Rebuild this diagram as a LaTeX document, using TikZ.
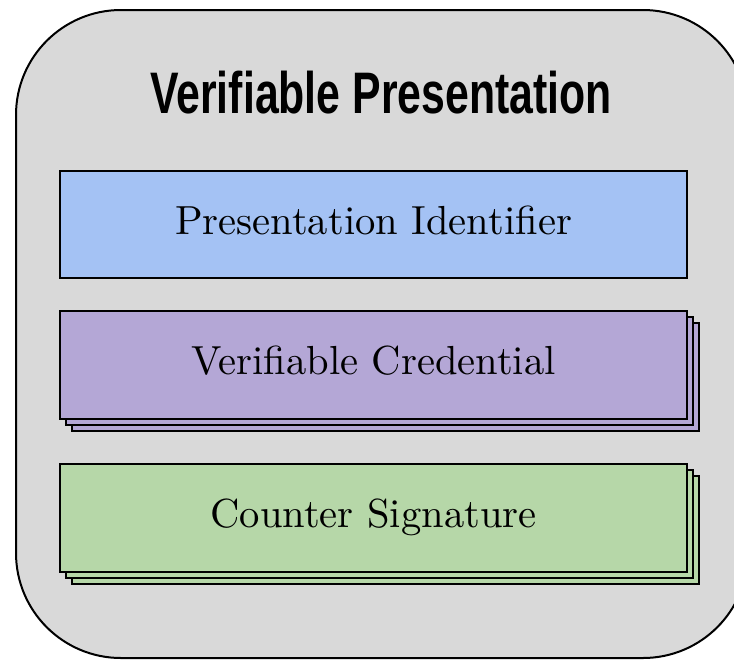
\documentclass[tikz,border=0pt]{standalone}
\usepackage{fontspec}
\usepackage{xcolor}
\usepackage{tikz}
\usetikzlibrary{shadows}
\newfontfamily\titlefont[FakeStretch=0.73]{Liberation Sans}
\newfontfamily\bodyfont{lmroman10-regular.otf}
\definecolor{panelgray}{HTML}{D9D9D9}
\definecolor{idblue}{HTML}{A4C2F4}
\definecolor{credpurple}{HTML}{B4A7D6}
\definecolor{siggreen}{HTML}{B6D7A8}

\begin{document}
\begin{tikzpicture}[
    x=0.5pt, y=-0.5pt,
    panel/.style={draw=black, fill=panelgray, line width=1pt, rounded corners=52.5pt},
    card/.style={draw=black, fill=#1, line width=1pt,
                 minimum width=313.5pt, minimum height=53.75pt, inner sep=0pt,
                 text height=14pt, text depth=4.5pt,
                 font=\bodyfont\fontsize{20.3}{24}\selectfont},
    stack/.style={
      general shadow={shadow scale=1, shadow xshift=6pt, shadow yshift=-6pt,
                      draw=black, fill=#1, line width=1pt},
      general shadow={shadow scale=1, shadow xshift=3pt, shadow yshift=-3pt,
                      draw=black, fill=#1, line width=1pt}}
  ]
    \useasboundingbox (0,0) rectangle (734,660);
    \clip (0,0) rectangle (734,660);
    \draw[panel] (16,10) rectangle (748,658);
    \node[anchor=base, font=\titlefont\bfseries\fontsize{29.3}{34}\selectfont]
      (title) at (381,113) {Verifiable Presentation};

    \node[card=idblue] (ident) at (373.5,224.5) {Presentation Identifier};
    \node[card=credpurple, stack=credpurple] (cred) at (373.5,365) {Verifiable Credential};
    \node[card=siggreen, stack=siggreen] (sig) at (373.5,518) {Counter Signature};
\end{tikzpicture}
\end{document}
